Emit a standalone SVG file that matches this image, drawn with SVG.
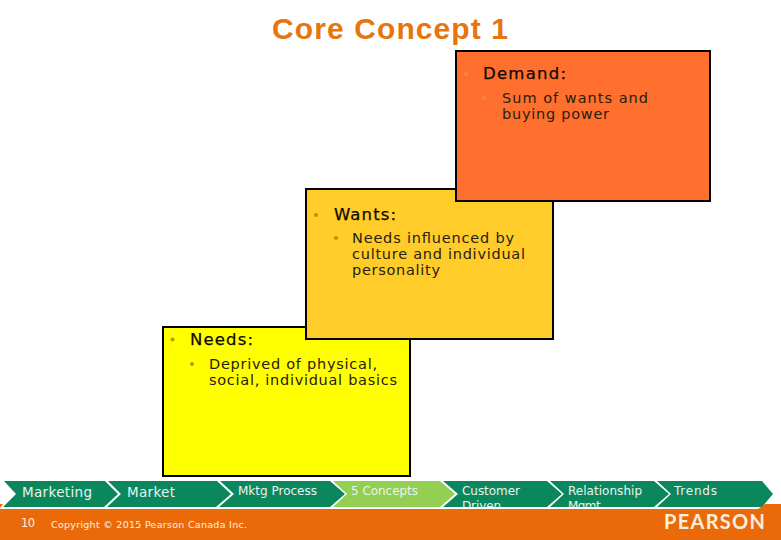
<svg xmlns="http://www.w3.org/2000/svg" width="781" height="540" viewBox="0 0 781 540">
<style>
text{font-family:"DejaVu Sans",Verdana,sans-serif}
.box{stroke:#000;stroke-width:2}
.h{font-size:16.500px;fill:#100800;stroke:#100800;stroke-width:.25}
.s{font-size:14.500px;fill:#2a2010}
.b{fill:#c98a10}
.d{fill:#f08a48}
.c{fill:#0b875e}
.l{fill:#92cf52}
.t{fill:#e8f4ee;font-size:12px}
.m{font-size:13.500px}
</style>
<rect width="781" height="540" fill="#fff"/>
<text id="title" x="272" y="39" font-size="30" font-weight="700" fill="#e8740c" style="font-family:'Liberation Sans',Arial,sans-serif" textLength="236">Core Concept 1</text>
<g id="needs">
<rect class="box" x="163" y="327" width="247" height="149" fill="#ffff00"/>
<circle class="b" cx="172.500" cy="339.500" r="2"/>
<text class="h" x="190" y="345" textLength="63">Needs:</text>
<circle class="b" cx="192" cy="364" r="2"/>
<text class="s" x="209" y="369" textLength="168">Deprived of physical,</text>
<text class="s" x="209" y="385" textLength="188">social, individual basics</text>
</g>
<g id="wants">
<rect class="box" x="306" y="189" width="247" height="150" fill="#ffcc29"/>
<circle class="b" cx="316" cy="215" r="2"/>
<text class="h" x="334" y="220" textLength="62">Wants:</text>
<circle class="b" cx="336" cy="238" r="2"/>
<text class="s" x="352" y="243" textLength="162">Needs influenced by</text>
<text class="s" x="352" y="259" textLength="173">culture and individual</text>
<text class="s" x="352" y="275" textLength="88">personality</text>
</g>
<g id="demand">
<rect class="box" x="456" y="51" width="254" height="150" fill="#ff6f2e"/>
<circle class="d" cx="466" cy="74" r="2"/>
<text class="h" x="483" y="79" textLength="83">Demand:</text>
<circle class="d" cx="484" cy="98" r="2"/>
<text class="s" x="502" y="103" textLength="146">Sum of wants and</text>
<text class="s" x="502" y="119" textLength="107">buying power</text>
</g>
<g id="nav">
<g id="nav-marketing"><polygon class="c" points="4,481 105,481 118,494 104,507 3,507 16,494"/><text class="t m" x="22" y="497" textLength="70">Marketing</text></g>
<g id="nav-market"><polygon class="c" points="108,481 217,481 231,494 216,507 107,507 121,494"/><text class="t m" x="127" y="497" textLength="48">Market</text></g>
<g id="nav-process"><polygon class="c" points="220,481 330,481 345,494 330,507 219,507 234,494"/><text class="t" x="238" y="495" textLength="79">Mktg Process</text></g>
<g id="nav-concepts"><polygon class="l" points="333,481 440,481 455,494 440,507 333,507 347,494"/><text class="t" x="351" y="495" textLength="67">5 Concepts</text></g>
<g id="nav-customer"><polygon class="c" points="443,481 547,481 562,494 547,507 443,507 458,494"/><text class="t" x="462" y="495" textLength="58">Customer</text><text class="t" x="462" y="510" textLength="39">Driven</text></g>
<g id="nav-relationship"><polygon class="c" points="550,481 654,481 669,494 654,507 550,507 564,494"/><text class="t" x="568" y="495" textLength="74">Relationship</text><text class="t" x="568" y="510" textLength="36">Mgmt.</text></g>
<g id="nav-trends"><polygon class="c" points="657,481 762,481 773,494 762,507 657,507 671,494"/><text class="t" x="674" y="495" textLength="43">Trends</text></g>
</g>
<g id="footer">
<rect x="0" y="507" width="781" height="2" fill="#fff"/>
<polygon points="0,509 758,509 765,504 781,504 781,540 0,540" fill="#ea6a0a"/>
<polygon points="0,504 3,504 0,508" fill="#ea6a0a"/>
<text x="21" y="527" font-size="11.500" fill="#fdf0e0" textLength="14">10</text>
<text x="51" y="528" font-size="9.500" fill="#fdf0e0" textLength="196">Copyright © 2015 Pearson Canada Inc.</text>
<text x="664" y="529" font-size="20" font-weight="700" fill="#fbeedd" style="font-family:Lato,'Liberation Sans',sans-serif" textLength="101">PEARSON</text>
</g>
</svg>
